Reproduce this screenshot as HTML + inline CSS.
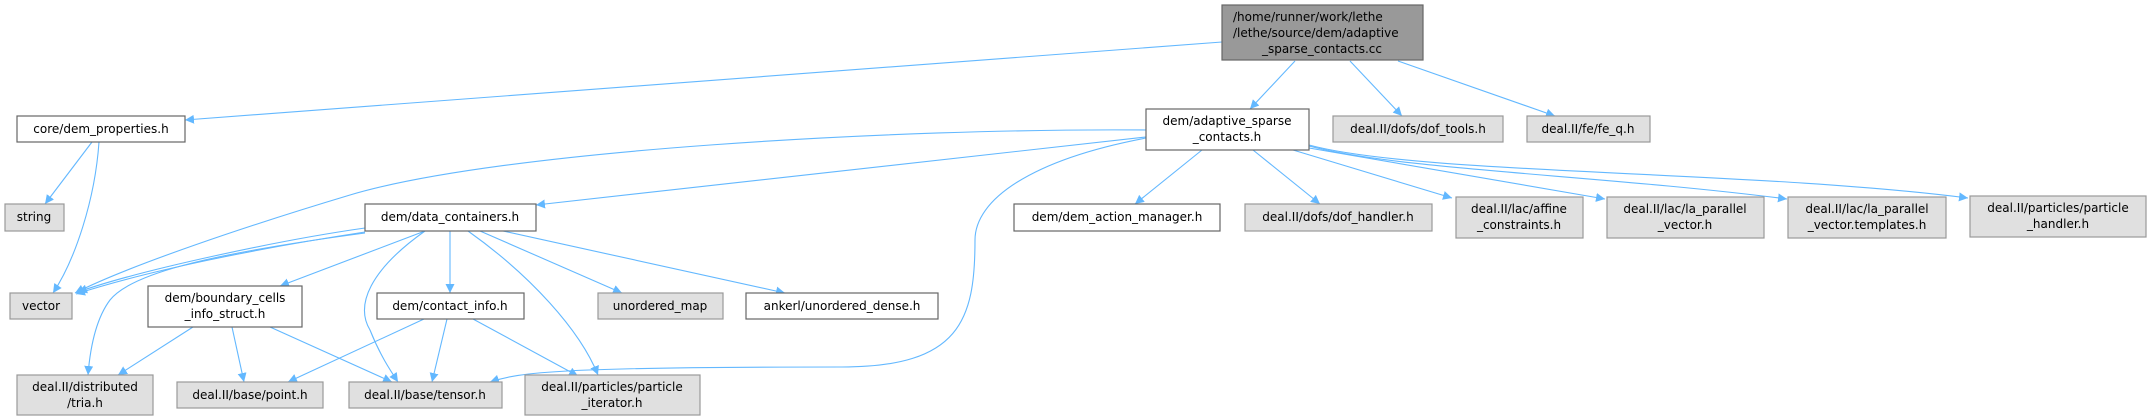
<!DOCTYPE html>
<html><head><meta charset="utf-8"><style>
html,body{margin:0;padding:0;background:#fff;}
svg{display:block;}
text{font-family:"DejaVu Sans","Liberation Sans",sans-serif;font-size:12px;fill:#000;}
.g{fill:#e0e0e0;stroke:#999;stroke-width:1.2;}
.w{fill:#fff;stroke:#666;stroke-width:1.2;}
.r{fill:#999;stroke:#666;stroke-width:1.2;}
.e{fill:none;stroke:#63b8ff;stroke-width:1.1;}
</style></head><body>
<svg width="2151" height="417" viewBox="0 0 2151 417" xmlns="http://www.w3.org/2000/svg">
<defs><marker id="a" viewBox="0 0 10 10" refX="10" refY="5" markerWidth="9" markerHeight="9" markerUnits="userSpaceOnUse" orient="auto"><path d="M0,0 L10,5 L0,10 z" fill="#63b8ff"/></marker></defs>
<g marker-end="url(#a)">
<path class="e" d="M1222,42 L185,120"/>
<path class="e" d="M1295,61 L1250,109"/>
<path class="e" d="M1350,61 L1402,116"/>
<path class="e" d="M1398,61 L1555,116"/>
<path class="e" d="M92,142 L45,204"/>
<path class="e" d="M99,142 C95,200 75,260 53,293"/>
<path class="e" d="M1146,130 C900,128 500,150 350,195 C250,225 130,265 75,293"/>
<path class="e" d="M1146,137 L536,205"/>
<path class="e" d="M1146,138 C1030,160 975,200 975,240 C975,320 960,367 842,367 C560,367 520,372 490,382"/>
<path class="e" d="M1202,150 L1135,204"/>
<path class="e" d="M1253,150 L1320,204"/>
<path class="e" d="M1293,150 L1452,198"/>
<path class="e" d="M1309,148 L1605,199"/>
<path class="e" d="M1309,146 C1400,170 1600,175 1787,199"/>
<path class="e" d="M1309,145 C1420,175 1750,170 1968,198"/>
<path class="e" d="M365,228 C280,240 140,270 78,292"/>
<path class="e" d="M365,232 C260,248 150,270 76,294"/>
<path class="e" d="M365,233 C200,255 130,275 110,300 C95,320 90,350 88,375"/>
<path class="e" d="M425,231 L280,286"/>
<path class="e" d="M425,231 C370,270 355,305 370,330 C380,355 390,370 398,382"/>
<path class="e" d="M450,231 L450,293"/>
<path class="e" d="M468,231 C530,275 580,330 598,375"/>
<path class="e" d="M480,231 L622,293"/>
<path class="e" d="M503,231 L785,293"/>
<path class="e" d="M193,327 L118,375"/>
<path class="e" d="M232,327 L244,382"/>
<path class="e" d="M270,327 L392,382"/>
<path class="e" d="M424,319 L288,382"/>
<path class="e" d="M447,319 L432,382"/>
<path class="e" d="M473,319 L578,376"/>
</g>
<rect class="r" x="1222" y="5" width="201" height="55"/>
<text x="1233" y="21">/home/runner/work/lethe</text>
<text x="1233" y="37">/lethe/source/dem/adaptive</text>
<text x="1322" y="53" text-anchor="middle">_sparse_contacts.cc</text>

<rect class="w" x="17" y="116" width="168" height="26"/><text x="101" y="133" text-anchor="middle">core/dem_properties.h</text>
<rect class="g" x="5" y="204" width="59" height="27"/><text x="34" y="221" text-anchor="middle">string</text>
<rect class="g" x="10" y="293" width="62" height="26"/><text x="41" y="310" text-anchor="middle">vector</text>
<rect class="w" x="365" y="204" width="171" height="27"/><text x="450" y="221" text-anchor="middle">dem/data_containers.h</text>
<rect class="w" x="1014" y="204" width="206" height="27"/><text x="1117" y="221" text-anchor="middle">dem/dem_action_manager.h</text>
<rect class="w" x="148" y="286" width="154" height="41"/><text x="225" y="302" text-anchor="middle">dem/boundary_cells</text><text x="225" y="318" text-anchor="middle">_info_struct.h</text>
<rect class="w" x="377" y="293" width="147" height="26"/><text x="450" y="310" text-anchor="middle">dem/contact_info.h</text>
<rect class="g" x="598" y="293" width="125" height="26"/><text x="660" y="310" text-anchor="middle">unordered_map</text>
<rect class="w" x="746" y="293" width="192" height="26"/><text x="842" y="310" text-anchor="middle">ankerl/unordered_dense.h</text>
<rect class="g" x="17" y="375" width="136" height="40"/><text x="85" y="391" text-anchor="middle">deal.II/distributed</text><text x="85" y="407" text-anchor="middle">/tria.h</text>
<rect class="g" x="177" y="382" width="146" height="26"/><text x="250" y="399" text-anchor="middle">deal.II/base/point.h</text>
<rect class="g" x="349" y="382" width="153" height="26"/><text x="425" y="399" text-anchor="middle">deal.II/base/tensor.h</text>
<rect class="g" x="525" y="375" width="175" height="40"/><text x="612" y="391" text-anchor="middle">deal.II/particles/particle</text><text x="612" y="407" text-anchor="middle">_iterator.h</text>
<rect class="w" x="1146" y="109" width="163" height="41"/><text x="1227" y="125" text-anchor="middle">dem/adaptive_sparse</text><text x="1227" y="141" text-anchor="middle">_contacts.h</text>
<rect class="g" x="1333" y="116" width="170" height="26"/><text x="1418" y="133" text-anchor="middle">deal.II/dofs/dof_tools.h</text>
<rect class="g" x="1527" y="116" width="123" height="26"/><text x="1588" y="133" text-anchor="middle">deal.II/fe/fe_q.h</text>
<rect class="g" x="1245" y="204" width="187" height="27"/><text x="1338" y="221" text-anchor="middle">deal.II/dofs/dof_handler.h</text>
<rect class="g" x="1456" y="197" width="127" height="41"/><text x="1519" y="213" text-anchor="middle">deal.II/lac/affine</text><text x="1519" y="229" text-anchor="middle">_constraints.h</text>
<rect class="g" x="1607" y="197" width="157" height="41"/><text x="1685" y="213" text-anchor="middle">deal.II/lac/la_parallel</text><text x="1685" y="229" text-anchor="middle">_vector.h</text>
<rect class="g" x="1788" y="197" width="158" height="41"/><text x="1867" y="213" text-anchor="middle">deal.II/lac/la_parallel</text><text x="1867" y="229" text-anchor="middle">_vector.templates.h</text>
<rect class="g" x="1970" y="196" width="176" height="41"/><text x="2058" y="212" text-anchor="middle">deal.II/particles/particle</text><text x="2058" y="228" text-anchor="middle">_handler.h</text>
</svg>
</body></html>
